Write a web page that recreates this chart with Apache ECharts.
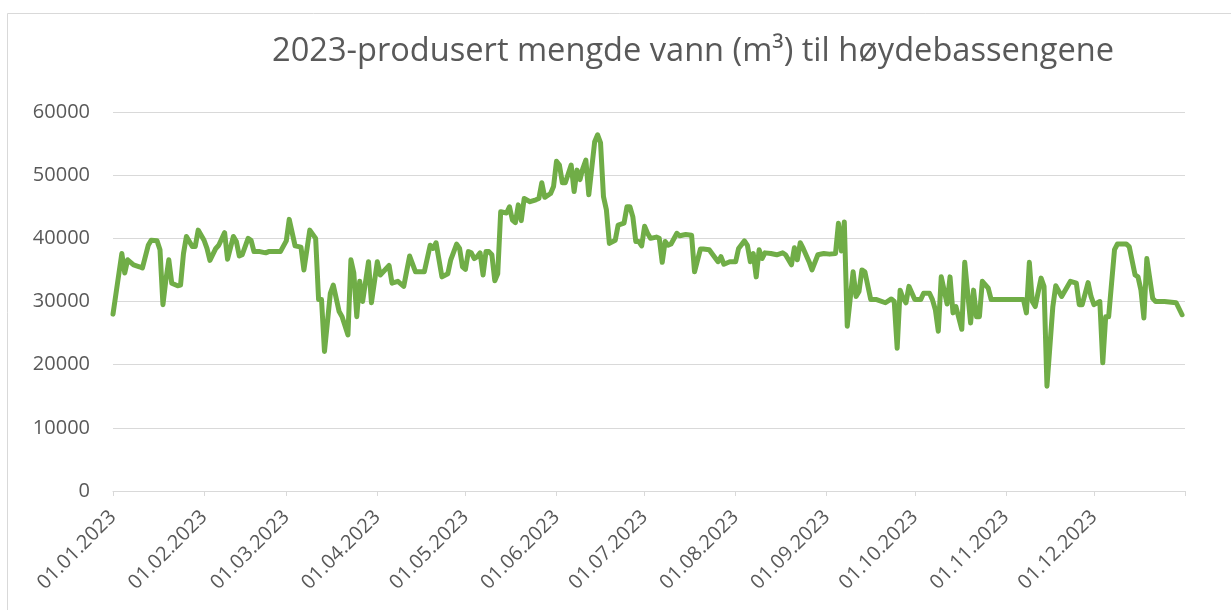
<!DOCTYPE html>
<html>
<head>
<meta charset="utf-8">
<script src="https://cdn.jsdelivr.net/npm/echarts@6/dist/echarts.min.js"></script>
<style>
html,body{margin:0;padding:0;background:#fff;}
#chart{width:1231px;height:610px;}
</style>
</head>
<body>
<div id="chart"></div>
<script>
// Title
var titleText = '2023-produsert mengde vann (m³) til høydebassengene';

// Vertex days (day index from 01.01.2023) and produced volumes (m³)
var dayIndex = [0,3,4,5,7,9,10,12,13,15,16,17,18,19,20,22,23,24,25,27,28,29,31,32,33,35,36,38,39,41,42,43,44,46,47,48,50,52,53,57,59,60,62,64,65,67,69,70,71,72,74,75,77,78,80,81,82,83,84,85,87,88,90,91,94,95,97,99,101,103,106,108,109,110,112,114,115,117,118,119,120,121,122,123,124,125,126,127,128,129,130,131,132,134,135,136,137,138,139,140,142,144,145,146,147,149,150,151,152,153,154,156,157,158,159,160,161,162,164,165,166,167,168,169,171,172,174,175,176,177,178,179,180,181,182,183,185,186,187,188,189,190,192,193,195,197,198,200,201,203,206,207,208,210,212,213,215,216,217,218,219,220,221,222,224,226,228,229,231,232,233,234,235,237,238,240,242,244,246,247,248,249,250,252,253,254,255,256,258,260,263,265,266,267,268,269,270,271,273,275,276,278,279,280,281,282,284,285,286,287,289,290,292,293,294,295,296,298,299,302,310,311,312,313,314,316,317,318,320,321,323,326,328,329,330,332,333,334,336,337,338,339,341,342,345,346,348,349,350,351,352,354,355,358,362,364];
var volumes = [28000,37600,34500,36600,35800,35500,35300,38900,39700,39600,38200,29500,33400,36600,32900,32500,32600,37600,40300,38700,38700,41300,39700,38400,36500,38400,38900,40900,36700,40300,39500,37200,37400,40000,39700,37900,37900,37700,37900,37900,39600,43000,38800,38600,35000,41300,40000,30300,30300,22100,31300,32600,28400,27600,24700,36600,34500,27600,33200,30000,36300,29800,36300,34200,35700,32900,33200,32400,37200,34700,34700,38900,38400,39300,33900,34400,36600,39100,38400,35500,35100,37900,37700,36800,37100,37700,34200,37900,37900,37400,33300,34400,44200,44000,45000,42900,42500,45300,42800,46300,45800,46100,46300,48800,46500,47100,48200,52200,51600,48800,48800,51600,47400,50800,49300,51100,52400,46900,55300,56400,55100,46600,44500,39200,39700,42100,42400,45000,45000,43400,39500,39500,38800,41900,40800,40000,40200,40000,36200,39500,38900,39100,40800,40400,40600,40500,34700,38300,38300,38200,36300,37100,35900,36300,36300,38400,39600,38900,36300,37600,33900,38200,36800,37700,37600,37400,37700,37400,35800,38500,36600,39300,38400,36300,35000,37400,37600,37500,37600,42400,38000,42600,26100,34700,30800,31600,35000,34700,30300,30300,29800,30400,30000,22600,31800,30500,29800,32400,30300,30300,31300,31300,30300,28700,25300,33900,29600,33900,28200,29200,25600,36200,26600,31800,27600,27600,33200,32100,30300,30300,30300,28200,36200,30000,29200,33700,32400,16600,29200,32500,30800,33200,32900,29500,29500,33000,30800,29500,30000,20300,27600,27600,38200,39100,39100,38700,34200,33900,31800,27400,36800,30500,30000,30000,29800,27900];

// Y axis ticks
var yMin = 0, yMax = 60000, yStep = 10000;

// Category labels: every day from 01.01.2023 to 01.01.2024
var categories = [];
(function(){
  var start = Date.UTC(2023,0,1);
  for (var i = 0; i <= 365; i++) {
    var d = new Date(start + i*86400000);
    var dd = ('0'+d.getUTCDate()).slice(-2);
    var mm = ('0'+(d.getUTCMonth()+1)).slice(-2);
    categories.push(dd+'.'+mm+'.'+d.getUTCFullYear());
  }
})();

var seriesData = dayIndex.map(function(d,i){ return [d, volumes[i]]; });

var chart = echarts.init(document.getElementById('chart'), null, {renderer:'canvas'});
var font = '"Open Sans", "Noto Sans", sans-serif';
chart.setOption({
  animation: false,
  backgroundColor: '#ffffff',
  title: {
    text: titleText,
    left: 272,
    top: 35,
    padding: 0,
    textStyle: { fontFamily: font, fontSize: 32.6, fontWeight: 'normal', color: '#595959' }
  },
  graphic: [{
    type: 'rect',
    shape: { x: 7.5, y: 13.5, width: 1240, height: 640 },
    style: { fill: 'none', stroke: '#d9d9d9', lineWidth: 1 },
    silent: true, z: -10
  }],
  grid: { left: 113, right: 46, top: 112, bottom: 119, containLabel: false },
  xAxis: {
    type: 'category',
    data: categories,
    boundaryGap: false,
    axisLine: { show: true, lineStyle: { color: '#d9d9d9', width: 1 } },
    axisTick: {
      show: true, length: 5,
      lineStyle: { color: '#d9d9d9' },
      interval: function(idx, val){ return val.slice(0,2) === '01'; }
    },
    axisLabel: {
      rotate: 45,
      margin: 23,
      interval: function(idx, val){ return val.slice(0,2) === '01' && idx < 365; },
      fontFamily: font, fontSize: 20, color: '#595959'
    },
    splitLine: { show: false }
  },
  yAxis: {
    type: 'value',
    min: yMin, max: yMax, interval: yStep,
    axisLine: { show: false },
    axisTick: { show: false },
    axisLabel: {
      margin: 23, fontFamily: font, fontSize: 20, color: '#595959',
      formatter: function(v){ return String(v); }
    },
    splitLine: { show: true, lineStyle: { color: '#d9d9d9', width: 1 } }
  },
  series: [{
    type: 'line',
    data: seriesData,
    showSymbol: false,
    smooth: false,
    lineStyle: { color: '#70AD47', width: 5, cap: 'round', join: 'round' },
    itemStyle: { color: '#70AD47' }
  }]
});
</script>
</body>
</html>
